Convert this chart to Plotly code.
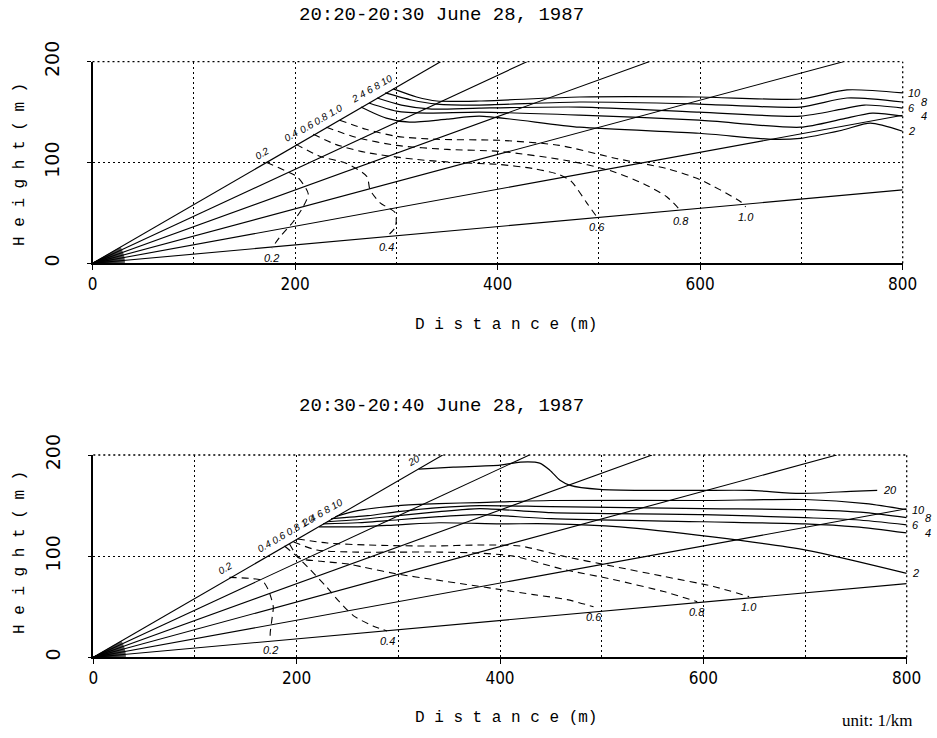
import numpy as np
import plotly.graph_objects as go

W, H = 937, 738

# ---------------- data ----------------
TITLE_TOP = "20:20-20:30 June 28, 1987"
TITLE_BOTTOM = "20:30-20:40 June 28, 1987"
X_TICKS = [0, 200, 400, 600, 800]
Y_TICKS = [0, 100, 200]

# lidar scan directions (degrees above horizon)
SCAN_ANGLES_TOP = [5.2, 10.4, 15.1, 20.0, 25.0, 30.2]
SCAN_ANGLES_BOTTOM = [5.2, 10.4, 15.3, 20.0, 25.0, 30.2]
FAN_ANGLES = [1, 2, 3, 4, 5, 6, 7, 8, 9, 10, 11, 12, 13, 14, 15, 16, 17, 18, 19, 20,
              21, 22, 23, 24, 25, 26, 27, 28, 29, 30]
FAN_RADIUS = 32

# ---- top panel contours (distance m, height m), extinction 1/km ----
T_K02 = [(172, 100), (190, 92), (202, 86), (213, 69), (208, 56), (198, 41), (185, 26), (177, 15)]
T_K04 = [(201, 118), (225, 106), (251, 99), (271, 86), (274, 73), (284, 60), (299, 50), (299, 36), (290, 26)]
T_K06 = [(218, 128), (240, 118), (270, 110), (320, 103), (360, 100), (402, 98), (435, 94), (461, 88),
         (473, 81), (488, 60), (498, 46)]
T_K08 = [(231, 135), (260, 125), (300, 117), (350, 113), (402, 111), (468, 102), (511, 92), (544, 79),
         (567, 66), (581, 52)]
T_K10 = [(244, 142), (270, 133), (300, 126), (340, 123), (402, 122), (461, 117), (517, 104), (567, 94),
         (600, 83), (640, 61), (645, 56)]
T_S2 = [(265, 155), (290, 144), (313, 140), (350, 143), (382, 146), (481, 135), (599, 129), (672, 123),
        (699, 124), (740, 132), (768, 139), (800, 131)]
T_S4 = [(273, 159), (300, 151), (330, 149), (382, 150), (481, 147), (599, 142), (699, 135), (740, 143),
        (770, 149), (800, 146)]
T_S6 = [(281, 164), (305, 157), (335, 153), (382, 154), (481, 155), (599, 150), (699, 146), (740, 153),
        (762, 157), (800, 154)]
T_S8 = [(289, 169), (315, 162), (340, 158), (382, 157), (481, 160), (599, 158), (699, 155), (745, 164),
        (800, 160)]
T_S10 = [(297, 173), (320, 165), (340, 161), (382, 161), (481, 165), (599, 165), (699, 163), (745, 172),
         (800, 169)]

# ---- bottom panel contours ----
B_K02 = [(134, 79), (154, 78), (166, 76), (172, 67), (177, 50), (176, 40), (174, 24), (174, 17)]
B_K04 = [(188, 110), (200, 100), (213, 87), (229, 70), (242, 55), (256, 41), (275, 31), (289, 26)]
B_K06 = [(193, 112), (203, 98), (224, 95), (252, 92), (266, 89), (301, 82), (334, 77), (367, 72),
         (400, 67), (433, 62), (466, 57), (492, 50)]
B_K08 = [(197, 114), (220, 106), (260, 104), (300, 104), (340, 104), (380, 103), (413, 100), (462, 87),
         (511, 77), (561, 65), (594, 55)]
B_K10 = [(201, 117), (230, 113), (270, 111), (334, 110), (380, 111), (420, 110), (462, 100), (511, 90),
         (561, 80), (610, 70), (645, 60)]
B_S2 = [(222, 129), (260, 129), (300, 131), (340, 133), (400, 132), (450, 132), (518, 129), (609, 119),
        (701, 106), (800, 83)]
B_S4 = [(226, 132), (260, 133), (300, 136), (340, 139), (380, 141), (450, 137), (600, 134), (700, 132),
        (750, 129), (800, 123)]
B_S6 = [(230, 134), (260, 136), (300, 140), (340, 144), (380, 147), (450, 143), (600, 141), (700, 138),
        (750, 136), (800, 131)]
B_S8 = [(234, 137), (270, 140), (300, 144), (340, 148), (380, 150), (450, 149), (600, 147), (700, 146),
        (760, 143), (800, 138)]
B_S10 = [(238, 139), (260, 145), (300, 150), (340, 152), (380, 153), (450, 155), (600, 155), (700, 156),
         (760, 152), (800, 146)]
B_S20 = [(320, 186), (354, 188), (400, 190), (420, 193), (439, 192), (449, 185), (459, 175), (469, 170),
         (498, 166), (547, 165), (597, 165), (646, 165), (695, 162), (745, 164), (771, 165)]

TOP_DASHED = [("0.2", T_K02), ("0.4", T_K04), ("0.6", T_K06), ("0.8", T_K08), ("1.0", T_K10)]
TOP_SOLID = [("2", T_S2), ("4", T_S4), ("6", T_S6), ("8", T_S8), ("10", T_S10)]
BOT_DASHED = [("0.2", B_K02), ("0.4", B_K04), ("0.6", B_K06), ("0.8", B_K08), ("1.0", B_K10)]
BOT_SOLID = [("2", B_S2), ("4", B_S4), ("6", B_S6), ("8", B_S8), ("10", B_S10), ("20", B_S20)]

# groups of contour labels written along the steepest scan line
TOP_START_GROUPS = [[0], [1], [2, 3, 4], [5, 6, 7, 8, 9]]
BOT_START_GROUPS = [[0], [1, 2, 3, 4], [5, 6, 7, 8, 9], [10]]
# horizontal stagger (px) of the labels at the right frame, per solid contour
TOP_END_SHIFT = [3, 16, 3, 16, 3]
BOT_END_SHIFT = [3, 16, 3, 16, 3, 4]

# ---------------- figure ----------------
fig = go.Figure()
annotations = []
shapes = []
LABEL_FONT = dict(family="Liberation Sans", size=11, color="black", style="italic")
DOT = "2px,3px"


def add_panel(xa, ya, angles, dashed, solid, groups, end_shift):
    fx, fy = [], []
    for a in FAN_ANGLES:
        r = np.radians(a)
        fx += [0, FAN_RADIUS * np.cos(r), None]
        fy += [0, FAN_RADIUS * np.sin(r), None]
    fig.add_trace(go.Scatter(x=fx, y=fy, mode="lines", xaxis=xa, yaxis=ya,
                             line=dict(color="black", width=0.5), hoverinfo="skip", showlegend=False))
    sx, sy = [], []
    for a in angles:
        t = np.tan(np.radians(a))
        if 800 * t <= 200:
            ex, ey = 800, 800 * t
        else:
            ex, ey = 200 / t, 200
        sx += [0, ex, None]
        sy += [0, ey, None]
    fig.add_trace(go.Scatter(x=sx, y=sy, mode="lines", xaxis=xa, yaxis=ya,
                             line=dict(color="black", width=1.1), hoverinfo="skip", showlegend=False))
    allc = []
    for lab, pts in dashed:
        xs = [p[0] for p in pts]
        ys = [p[1] for p in pts]
        allc.append((lab, xs, ys))
        fig.add_trace(go.Scatter(x=xs, y=ys, mode="lines", xaxis=xa, yaxis=ya,
                                 line=dict(color="black", width=1.1, dash="7px,5px", shape="spline",
                                           smoothing=0.7),
                                 hoverinfo="skip", showlegend=False))
        annotations.append(dict(x=xs[-1], y=ys[-1], xref=xa, yref=ya, text=lab, showarrow=False,
                                xanchor="center", yanchor="top", yshift=-2, font=LABEL_FONT))
    for i, (lab, pts) in enumerate(solid):
        xs = [p[0] for p in pts]
        ys = [p[1] for p in pts]
        allc.append((lab, xs, ys))
        fig.add_trace(go.Scatter(x=xs, y=ys, mode="lines", xaxis=xa, yaxis=ya,
                                 line=dict(color="black", width=1.2, shape="spline", smoothing=0.7),
                                 hoverinfo="skip", showlegend=False))
        annotations.append(dict(x=xs[-1], y=ys[-1], xref=xa, yref=ya, text=lab, showarrow=False,
                                xanchor="left", yanchor="middle", xshift=end_shift[i], font=LABEL_FONT))
    for g in groups:
        txt = " ".join(allc[k][0] for k in g)
        gx = float(np.mean([allc[k][1][0] for k in g]))
        gy = float(np.mean([allc[k][2][0] for k in g]))
        annotations.append(dict(x=gx, y=gy, xref=xa, yref=ya, text=txt, showarrow=False,
                                textangle=-30, xanchor="center", yanchor="middle",
                                xshift=-5, yshift=9, font=dict(LABEL_FONT, size=10)))
    # dotted frame on the top and right sides
    xd, yd = xa + " domain", ya + " domain"
    shapes.append(dict(type="line", xref=xd, yref=yd, x0=0, x1=1, y0=1, y1=1,
                       line=dict(color="black", width=1.3, dash=DOT)))
    shapes.append(dict(type="line", xref=xd, yref=yd, x0=1, x1=1, y0=0, y1=1,
                       line=dict(color="black", width=1.3, dash=DOT)))


add_panel("x", "y", SCAN_ANGLES_TOP, TOP_DASHED, TOP_SOLID, TOP_START_GROUPS, TOP_END_SHIFT)
add_panel("x2", "y2", SCAN_ANGLES_BOTTOM, BOT_DASHED, BOT_SOLID, BOT_START_GROUPS, BOT_END_SHIFT)

GRID = dict(showgrid=True, gridcolor="black", gridwidth=1.3, griddash=DOT)
xcommon = dict(range=[0, 800], tickvals=X_TICKS, showline=True, linecolor="black", linewidth=1.5,
               zeroline=False, ticks="outside", ticklen=5, tickwidth=1.2, tickcolor="black",
               automargin=False,
               tickfont=dict(family="DejaVu Sans Condensed, DejaVu Sans", size=17, color="black"),
               minor=dict(dtick=100, tick0=0, ticks="", **GRID), **GRID)
ycommon = dict(range=[0, 200], tickvals=Y_TICKS, showline=True, linecolor="black", linewidth=1.5,
               zeroline=False, ticks="outside", ticklen=4, tickwidth=1.2, tickcolor="black",
               tickangle=-90, ticklabelstandoff=20, automargin=False,
               tickfont=dict(family="DejaVu Sans", size=19, color="black"), **GRID)

fig.update_layout(
    width=W, height=H, margin=dict(l=0, r=0, t=0, b=0, pad=0, autoexpand=False),
    paper_bgcolor="white", plot_bgcolor="white", showlegend=False,
    xaxis=dict(domain=[92.5 / W, 902.7 / W], anchor="y", **xcommon),
    yaxis=dict(domain=[1 - 263.3 / H, 1 - 61.7 / H], anchor="x", **ycommon),
    xaxis2=dict(domain=[93.3 / W, 906.7 / W], anchor="y2", **xcommon),
    yaxis2=dict(domain=[1 - 657.3 / H, 1 - 455 / H], anchor="x2", **ycommon),
)

TXT = dict(family="Liberation Mono", size=19, color="black")
AX = dict(family="Liberation Mono", size=16, color="black")
C = dict(xref="paper", yref="paper", showarrow=False, xanchor="center", yanchor="middle")
annotations += [
    dict(x=441 / W, y=1 - 15 / H, text=TITLE_TOP, font=TXT, **C),
    dict(x=441 / W, y=1 - 406 / H, text=TITLE_BOTTOM, font=TXT, **C),
    dict(x=506 / W, y=1 - 325 / H, text="D i s t a n c e (m)", font=AX, **C),
    dict(x=506 / W, y=1 - 718 / H, text="D i s t a n c e (m)", font=AX, **C),
    dict(x=20 / W, y=1 - 165 / H, text="H e i g h t ( m )", textangle=-90, font=AX, **C),
    dict(x=20 / W, y=1 - 553 / H, text="H e i g h t ( m )", textangle=-90, font=AX, **C),
    dict(x=877 / W, y=1 - 720 / H, text="unit: 1/km",
         font=dict(family="Liberation Serif", size=17, color="black"), **C),
]
fig.update_layout(annotations=annotations, shapes=shapes)

fig.write_html("out.html")
